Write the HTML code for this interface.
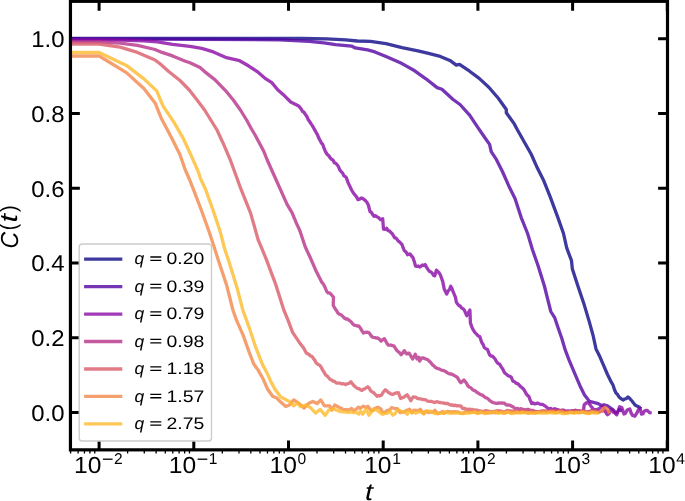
<!DOCTYPE html>
<html><head><meta charset="utf-8"><style>
html,body{margin:0;padding:0;background:#fff;}
body{width:685px;height:501px;overflow:hidden;}
svg{display:block;will-change:transform;font-family:"Liberation Sans",sans-serif;text-rendering:geometricPrecision;}
</style></head><body>
<svg width="685" height="501" viewBox="0 0 685 501">
<defs><clipPath id="ax"><rect x="70.5" y="1.3" width="597.0" height="448.6"/></clipPath></defs>

<path d="M99.10 449.85V440.45M99.10 1.30V10.70M193.80 449.85V440.45M193.80 1.30V10.70M288.50 449.85V440.45M288.50 1.30V10.70M383.20 449.85V440.45M383.20 1.30V10.70M477.90 449.85V440.45M477.90 1.30V10.70M572.60 449.85V440.45M572.60 1.30V10.70M667.30 449.85V440.45M667.30 1.30V10.70M70.45 412.40H79.85M667.50 412.40H658.10M70.45 337.65H79.85M667.50 337.65H658.10M70.45 262.90H79.85M667.50 262.90H658.10M70.45 188.15H79.85M667.50 188.15H658.10M70.45 113.40H79.85M667.50 113.40H658.10M70.45 38.65H79.85M667.50 38.65H658.10" stroke="#000" stroke-width="3.0" fill="none"/>
<g clip-path="url(#ax)" fill="none" stroke-width="3.3" stroke-linejoin="round" stroke-linecap="butt" stroke-opacity="0.8">
<polyline stroke="#0d0887" points="60.0,38.4 99.2,38.4 280.0,38.5 301.9,38.5 326.7,38.8 345.7,39.9 357.4,41.0 370.5,41.4 386.0,43.6 402.0,47.6 417.9,50.8 427.5,53.2 440.3,56.4 449.9,60.4 456.3,65.1 459.5,64.3 469.6,71.2 479.2,78.4 488.8,87.2 498.3,98.3 506.3,109.5 506.3,112.7 514.3,123.9 517.5,130.0 524.7,142.8 531.1,154.0 537.5,168.3 543.9,181.1 550.3,197.1 557.9,217.6 563.5,233.5 566.7,247.9 571.5,260.7 572.3,268.7 577.9,286.0 584.3,305.1 589.1,321.1 593.1,335.5 596.0,348.9 599.8,356.6 603.7,365.6 607.5,374.5 611.3,382.2 613.0,385.0 614.5,389.7 616.0,393.0 617.5,394.4 619.0,397.0 621.0,398.6 623.0,400.0 624.7,399.0 626.3,398.7 628.0,397.0 630.0,398.8 632.0,401.0 633.5,402.9 635.0,405.0 637.0,406.1 639.0,407.0 641.0,409.0"/>
<polyline stroke="#5302a3" points="60.0,38.9 99.2,38.9 200.0,39.3 280.0,39.9 309.2,41.4 323.8,42.8 335.5,44.6 351.5,46.1 355.2,47.9 367.6,49.9 374.9,51.9 386.0,56.5 402.0,63.6 414.7,70.8 425.9,78.8 437.1,87.6 441.9,89.2 453.1,99.5 460.0,104.5 469.6,115.1 477.6,127.1 485.6,138.8 489.6,144.4 491.2,151.6 496.0,158.8 502.4,171.5 508.8,185.9 515.1,198.7 521.2,217.6 527.6,233.5 532.4,249.5 538.0,265.5 544.4,286.0 547.6,298.8 550.8,311.5 554.8,317.9 558.0,327.5 561.9,338.7 565.3,350.2 569.2,360.4 573.0,369.4 576.8,378.3 580.7,387.3 584.5,395.0 589.4,401.3 593.5,402.4 598.2,403.6 601.1,405.3 604.0,404.8 607.5,405.9 611.0,408.3 613.4,410.0 614.7,411.7 616.0,413.0 617.5,412.0 619.0,409.5 620.5,410.2 622.0,411.0"/>
<polyline stroke="#8a09a5" points="60.0,39.9 99.2,39.9 120.0,40.2 143.4,40.8 157.4,41.9 172.6,44.3 190.0,46.4 201.7,48.4 213.4,51.9 226.5,57.7 239.6,60.7 248.4,65.8 257.2,71.6 265.9,78.9 271.8,82.6 277.9,90.0 284.3,95.6 290.7,102.0 298.7,106.0 300.0,107.6 301.3,109.3 302.5,111.4 303.8,112.0 305.1,114.0 306.7,116.3 308.3,119.7 309.9,122.0 311.1,123.9 312.3,125.7 313.5,127.7 314.7,129.9 316.0,132.2 317.4,134.6 318.7,137.9 320.0,140.3 321.4,143.0 322.7,144.3 324.2,148.7 325.8,152.3 327.3,154.5 328.8,155.8 330.3,158.0 331.6,159.3 333.0,160.1 334.3,162.7 335.6,163.2 337.0,164.6 338.3,166.4 339.9,170.2 341.5,172.0 342.7,173.1 343.9,175.8 345.1,176.4 346.3,177.6 347.9,182.1 349.5,185.6 351.6,190.0 353.2,192.7 354.8,194.8 356.4,196.6 358.0,199.6 359.6,199.2 361.2,198.0 362.5,198.3 363.9,199.4 365.2,200.4 366.8,202.1 368.4,205.2 370.0,211.6 371.3,212.3 372.7,214.5 374.0,216.4 375.3,215.7 376.7,216.7 378.0,217.2 380.4,219.6 382.7,218.8 383.5,229.1 385.1,229.4 386.7,228.3 388.0,230.6 389.4,230.8 390.7,232.3 392.0,233.4 393.4,235.7 394.7,237.9 395.9,238.0 397.1,239.3 398.3,241.1 399.5,241.9 401.9,244.3 403.1,247.7 404.3,250.7 405.9,251.8 407.5,254.7 409.9,253.9 411.5,255.9 413.1,257.9 414.4,261.9 415.6,266.2 416.9,266.3 418.3,266.0 419.6,267.0 421.0,266.2 422.4,265.0 423.8,265.6 425.2,264.6 426.8,267.7 428.4,270.2 429.7,271.5 431.1,272.1 432.4,273.4 433.6,275.5 434.8,275.8 436.4,270.2 437.7,271.5 439.1,272.8 440.4,275.0 442.7,281.4 444.3,289.3 446.7,294.1 448.0,291.2 449.4,289.7 450.7,286.2 451.9,288.3 453.1,291.7 455.5,297.3 456.3,302.1 457.6,304.0 459.0,305.6 460.3,306.1 461.6,308.1 463.0,308.7 464.3,310.1 466.7,315.7 468.3,312.8 469.9,310.1 470.4,322.9 471.9,327.3 473.4,330.2 475.0,332.6 476.6,334.1 478.2,336.0 479.8,336.6 481.7,342.4 483.0,344.3 484.3,347.5 485.9,348.7 487.5,349.4 489.4,354.5 490.9,356.0 492.4,356.1 493.9,357.7 495.1,359.0 496.4,361.5 498.0,363.5 499.6,364.1 501.2,366.8 502.8,369.2 504.7,373.0 506.3,374.1 507.9,375.6 509.5,376.2 511.1,376.9 513.0,381.3 514.6,381.8 516.2,383.3 517.5,383.7 518.7,384.4 520.0,386.1 521.5,387.3 522.9,388.3 524.4,390.4 525.9,393.2 527.3,395.2 528.8,396.3 530.2,400.1 531.7,403.6 533.2,402.8 534.6,403.8 536.1,403.6 537.5,403.1 539.0,403.8 540.4,404.3 542.6,404.4 544.8,405.8 547.0,407.5 549.2,409.1 551.0,408.4 552.9,410.0 554.7,408.7 556.5,409.4 558.3,409.8 560.2,411.0 562.0,410.2 564.0,410.2 566.0,411.7 568.0,410.8 569.8,411.3 571.5,410.7 573.2,410.8 575.0,410.4 576.7,411.0 578.3,410.8 580.0,411.5 582.6,412.2 583.6,410.0 584.2,404.8 586.5,402.7 588.8,403.0 591.2,406.5 593.5,409.4 596.4,409.7 599.4,408.6 601.1,407.1 603.4,406.2 606.4,413.5 607.5,414.8 609.1,413.5 610.8,409.7 612.0,409.5 613.3,412.2 614.5,412.6 616.7,414.8 618.2,410.8 619.6,406.8 621.8,407.5 624.0,414.0 625.5,413.3 626.9,410.4 628.3,409.5 629.8,409.0 631.2,413.3 632.7,415.5 634.9,416.2 637.1,412.6 638.5,409.5 640.0,408.2 641.5,414.0 643.0,413.8 644.4,411.1 645.8,410.5 647.3,410.4 649.5,412.6 651.7,413.0"/>
<polyline stroke="#b7318a" points="60.0,41.8 99.2,41.8 120.0,43.1 137.5,45.4 155.0,49.5 162.0,52.4 172.6,55.9 185.4,61.2 190.0,62.8 200.0,67.6 204.6,71.6 214.8,79.6 226.5,91.7 233.3,100.0 240.4,110.0 246.6,120.0 251.5,129.0 255.4,135.5 263.5,150.7 267.2,160.0 274.4,176.0 280.8,190.4 287.2,204.7 292.0,212.7 296.7,223.9 299.6,230.0 302.8,239.6 305.2,246.8 310.8,258.8 315.6,269.9 320.4,279.5 321.9,282.4 323.5,284.3 325.1,287.5 326.7,291.5 328.0,292.9 329.4,292.8 330.7,293.9 332.1,295.5 333.5,297.2 333.2,305.2 334.8,308.3 336.4,310.4 338.0,313.2 339.6,314.3 341.2,314.9 342.8,316.4 344.4,318.0 346.0,319.0 347.6,319.0 349.2,320.4 350.8,321.5 352.4,323.5 354.0,325.1 355.6,325.4 357.2,326.0 358.8,325.9 360.4,328.1 361.9,330.8 363.5,333.1 365.1,332.4 366.7,332.2 368.3,332.3 369.6,333.4 371.0,335.6 372.3,337.1 373.7,337.4 375.1,337.6 376.5,338.2 377.9,337.9 379.5,339.3 381.1,341.1 382.7,339.7 384.3,338.7 385.6,340.8 387.0,343.5 388.3,345.1 389.7,345.1 391.1,345.2 392.5,345.6 393.9,345.9 395.5,348.5 397.1,350.7 398.4,351.8 399.8,353.0 401.1,354.7 402.7,353.0 404.3,350.7 406.7,353.9 409.1,353.1 410.9,356.1 412.6,359.0 414.0,356.7 415.3,354.2 417.0,359.0 418.8,357.3 419.6,361.2 421.4,358.1 422.9,357.8 424.3,358.4 425.8,359.0 427.6,359.6 429.3,361.2 430.7,362.5 432.2,364.6 433.6,365.6 435.1,367.2 436.5,368.0 438.0,368.6 439.3,368.9 440.6,369.6 442.0,370.4 443.3,370.4 444.8,371.1 446.2,372.0 447.7,373.0 449.4,373.9 451.2,374.0 452.9,374.8 454.4,375.6 455.8,376.4 457.3,377.4 459.1,380.4 460.8,382.7 462.4,381.4 463.9,380.0 465.3,381.6 466.6,383.5 468.0,386.1 469.4,387.3 470.9,387.8 472.4,389.5 473.8,390.4 475.3,390.9 476.7,392.2 478.2,392.9 479.6,394.1 481.1,394.8 482.6,395.2 484.0,396.5 485.5,397.6 486.9,398.0 488.4,399.2 489.8,400.7 491.3,401.6 492.8,402.5 494.2,402.8 495.7,403.3 497.1,403.3 498.6,402.9 500.0,403.2 501.5,402.8 503.0,403.1 504.4,403.2 505.9,404.6 507.3,405.1 508.8,405.0 510.3,405.4 511.7,406.3 513.2,406.9 514.6,408.2 516.1,408.7 517.6,408.4 519.0,409.4 520.5,408.6 521.9,409.1 523.4,409.4 524.7,409.9 526.0,409.7 527.4,409.4 528.7,409.4 530.0,410.1 532.8,410.5 535.8,411.8 540.2,411.4 543.6,410.8 547.5,411.2 551.1,411.3 554.7,410.9 556.8,410.3 561.5,410.3 564.8,411.2 567.1,411.6 570.5,411.7 575.7,410.4 579.0,411.5 581.2,411.3 584.7,411.8 589.4,412.0 591.6,410.6 596.3,411.2 598.8,411.8 603.7,410.6 605.8,411.3 609.8,411.3"/>
<polyline stroke="#da5b69" points="60.0,44.0 99.2,44.0 120.0,47.2 137.5,52.4 155.0,60.0 159.7,63.5 169.0,71.7 180.0,80.5 189.3,90.0 197.1,100.0 204.6,110.0 210.8,120.0 217.0,130.0 221.6,140.0 223.1,143.1 230.6,160.7 237.0,178.3 241.0,189.2 250.6,213.1 258.2,240.0 261.8,248.3 266.2,259.2 275.8,284.7 283.8,310.0 287.8,319.6 292.6,332.4 299.0,341.9 303.8,348.3 306.3,353.1 307.7,353.8 309.1,354.5 310.5,356.0 312.0,356.3 313.3,358.4 314.7,360.1 316.0,362.7 317.8,364.2 319.5,365.1 321.1,367.0 322.6,370.0 324.1,372.2 325.6,375.1 327.2,375.9 328.7,377.8 330.2,379.3 331.7,380.2 333.1,381.1 334.6,381.3 336.1,382.8 337.6,383.1 340.0,383.1 341.4,383.9 342.9,383.6 344.3,384.0 345.8,384.6 347.5,383.8 349.2,383.2 350.9,381.7 352.6,384.1 354.4,386.0 356.1,387.5 357.6,388.5 359.0,388.6 360.4,389.8 361.9,390.4 363.3,389.4 364.8,388.8 366.2,387.7 367.7,386.8 369.2,388.1 370.6,390.7 372.1,391.9 373.8,392.8 375.5,394.6 377.2,396.3 378.7,395.6 380.1,395.9 381.6,394.8 383.5,391.8 385.3,389.7 386.8,390.9 388.2,392.4 389.7,393.1 391.1,394.1 392.9,394.3 394.7,393.4 396.5,392.9 398.4,392.6 400.6,398.5 402.4,397.7 404.2,397.0 405.7,395.7 407.2,394.8 409.0,397.6 410.8,400.7 413.0,397.0 414.5,397.2 415.9,397.2 417.4,398.7 418.9,398.7 420.3,399.0 421.8,399.2 423.2,399.6 424.7,399.6 426.1,400.0 427.6,401.2 429.1,401.4 430.5,401.4 431.8,401.5 433.1,402.0 434.5,402.5 435.8,402.1 437.3,401.7 438.8,402.3 440.2,402.5 441.7,402.8 443.2,402.9 444.6,403.4 446.1,403.5 447.5,403.5 449.0,404.3 450.5,405.0 451.9,404.8 453.4,405.6 454.8,405.1 456.3,405.8 457.8,405.6 459.2,405.8 460.7,405.8 462.8,408.7 464.5,408.4 466.3,409.1 468.0,409.4 469.4,409.1 470.9,409.5 472.4,409.5 473.8,410.2 475.2,410.0 476.7,410.1 479.0,410.7 483.3,411.6 486.2,410.7 489.9,411.7 493.3,411.7 497.8,410.7 501.1,411.2 504.3,412.1 507.1,410.5 512.4,411.1 514.4,411.0 518.2,412.0 521.4,410.8 525.7,411.4 530.0,411.8 532.2,410.8 536.7,412.1 538.5,411.7 543.8,411.5 545.9,411.8 550.5,410.8 553.8,410.9 556.0,411.0 560.2,411.1 564.3,411.8 568.5,412.1 572.0,411.8 574.1,410.8 578.3,411.4 581.9,410.6 584.4,412.0 588.7,411.6 591.2,411.1 596.4,411.5"/>
<polyline stroke="#f3874a" points="60.0,56.0 99.2,56.0 126.4,72.6 143.9,88.5 155.1,102.9 161.5,118.8 166.0,127.2 172.2,139.1 179.8,154.3 185.3,170.0 189.3,179.0 193.3,189.2 201.3,210.0 209.3,232.3 214.8,249.0 218.5,260.8 226.5,284.7 232.9,310.0 236.9,321.2 243.3,335.6 248.9,351.5 253.9,364.3 258.0,369.9 263.0,378.7 267.5,389.0 272.6,396.3 276.3,397.7 280.7,402.1 285.8,406.5 289.4,405.0 293.8,399.9 298.2,402.8 304.0,408.0 308.4,403.6 312.8,401.4 317.2,403.6 320.8,399.9 324.5,405.8 329.6,405.8 331.8,410.1 334.7,405.0 339.0,407.2 343.4,409.4 348.5,410.0 351.6,408.5 353.4,410.8 356.6,408.9 358.6,407.1 360.3,408.2 363.5,406.2 366.2,407.4 367.8,406.3 371.3,410.9 373.5,410.2 374.7,408.5 377.8,407.2 380.9,408.9 382.1,411.8 384.5,412.5 387.3,410.3 389.6,410.0 391.7,407.5 395.1,408.7 397.4,408.7 400.1,412.6 402.2,412.0 404.3,411.8 406.1,410.5 409.5,409.2 412.0,412.9 413.7,410.2 416.1,410.4 419.3,410.5 420.3,409.2 423.7,413.7 425.8,411.3 428.3,412.6 430.2,412.0 433.1,412.2 434.9,410.2 437.6,413.7 442.8,411.4 444.1,413.3 447.4,411.4 451.3,411.9 454.7,411.6 457.8,411.8 460.2,413.2 463.3,413.1 466.4,411.2 469.7,412.4 471.7,411.5 475.6,412.4 478.8,412.8 481.8,412.3 484.4,412.4 486.6,413.2 489.7,412.8 493.8,412.5 495.4,412.9 499.3,411.5 501.2,412.3 504.2,413.1 508.0,412.2 510.8,412.6 514.7,411.8 516.8,412.4 519.6,412.4 523.1,412.1 526.3,412.3 528.3,413.3 531.7,412.0 534.8,413.1 538.8,412.2 540.8,411.3 544.7,411.5 547.1,411.9 549.7,411.9 552.4,411.2 556.1,412.9 559.3,411.5 562.3,411.2 564.8,412.9 568.8,412.1 571.6,412.2 574.0,412.4 577.9,412.7 580.0,412.7 583.3,411.9 586.5,412.9 589.2,413.2 591.1,412.2 595.2,411.8 597.4,412.6 601.0,411.5 603.3,408.6 605.0,407.3 607.7,409.5 609.8,413.5"/>
<polyline stroke="#feba2c" points="60.0,52.4 99.2,52.4 126.4,65.4 143.9,78.9 156.7,90.9 163.1,106.1 169.5,115.6 174.0,122.4 183.2,138.3 191.3,155.9 197.6,170.0 200.7,179.0 205.5,189.2 213.5,211.5 219.9,230.7 224.7,249.0 229.2,262.4 237.1,287.9 242.8,310.0 249.2,327.6 255.5,346.7 262.4,364.3 267.5,373.9 270.2,380.2 274.8,389.0 280.7,397.0 285.0,399.2 289.4,401.4 293.8,405.8 297.4,402.8 300.4,406.5 305.5,405.0 309.9,407.2 315.7,413.1 320.1,409.4 325.2,415.3 328.8,410.1 333.2,408.7 340.5,411.6 348.9,412.4 352.0,411.8 353.8,412.7 355.7,412.1 358.8,414.1 360.4,410.8 362.8,414.2 366.1,409.1 368.9,415.2 370.8,412.9 372.5,409.1 375.4,409.5 377.4,410.7 379.5,412.1 382.5,414.4 385.0,413.2 387.4,413.3 389.7,411.1 392.9,415.2 395.1,413.6 396.7,411.0 399.1,410.1 402.2,411.9 404.7,411.9 407.3,414.3 408.3,411.1 412.0,412.4 414.5,412.1 415.6,413.2 419.0,411.5 420.4,411.9 424.1,413.8 425.2,411.6 427.6,410.8 431.0,411.4 433.1,412.5 435.0,413.7 437.3,413.4 442.0,413.1 445.3,412.1 447.1,412.6 450.6,413.4 454.3,413.0 457.1,413.1 459.4,412.7 462.4,413.6 465.2,413.4 468.2,413.2 471.7,412.6 475.6,411.9 477.2,413.6 481.0,412.0 484.9,413.6 486.3,412.7 489.3,412.5 493.2,412.2 496.4,412.0 498.4,413.4 501.8,412.7 505.2,412.8 507.8,412.0 511.4,413.6 514.9,413.1 516.7,412.6 520.3,413.1 522.3,412.4 525.8,412.8 529.6,412.8 531.2,413.3 534.9,412.8 537.5,412.7 540.8,413.2 543.3,412.9 546.4,413.1 549.2,412.4 552.7,413.0 555.2,412.7 558.5,412.5 562.0,413.5 565.0,413.5 567.4,413.4 570.8,412.3 574.4,413.4 576.1,412.5 580.5,412.6 582.5,412.1 585.2,413.0 589.9,413.5 592.0,412.1 594.7,413.2 598.6,413.0"/>
</g>
<rect x="70.45" y="1.30" width="597.05" height="448.55" fill="none" stroke="#000" stroke-width="3.2"/>
<path d="M70.59 449.85V453.45M78.09 449.85V453.45M84.43 449.85V453.45M89.92 449.85V453.45M94.77 449.85V453.45M127.61 449.85V453.45M144.28 449.85V453.45M156.12 449.85V453.45M165.29 449.85V453.45M172.79 449.85V453.45M179.13 449.85V453.45M184.62 449.85V453.45M189.47 449.85V453.45M222.31 449.85V453.45M238.98 449.85V453.45M250.82 449.85V453.45M259.99 449.85V453.45M267.49 449.85V453.45M273.83 449.85V453.45M279.32 449.85V453.45M284.17 449.85V453.45M317.01 449.85V453.45M333.68 449.85V453.45M345.52 449.85V453.45M354.69 449.85V453.45M362.19 449.85V453.45M368.53 449.85V453.45M374.02 449.85V453.45M378.87 449.85V453.45M411.71 449.85V453.45M428.38 449.85V453.45M440.22 449.85V453.45M449.39 449.85V453.45M456.89 449.85V453.45M463.23 449.85V453.45M468.72 449.85V453.45M473.57 449.85V453.45M506.41 449.85V453.45M523.08 449.85V453.45M534.92 449.85V453.45M544.09 449.85V453.45M551.59 449.85V453.45M557.93 449.85V453.45M563.42 449.85V453.45M568.27 449.85V453.45M601.11 449.85V453.45M617.78 449.85V453.45M629.62 449.85V453.45M638.79 449.85V453.45M646.29 449.85V453.45M652.63 449.85V453.45M658.12 449.85V453.45M662.97 449.85V453.45" stroke="#000" stroke-width="1.30" fill="none"/>
<g font-size="22.80" text-anchor="end" fill="#000">
<text transform="translate(64.50,420.80) scale(1.050,1)">0.0</text>
<text transform="translate(64.50,346.05) scale(1.050,1)">0.2</text>
<text transform="translate(64.50,271.30) scale(1.050,1)">0.4</text>
<text transform="translate(64.50,196.55) scale(1.050,1)">0.6</text>
<text transform="translate(64.50,121.80) scale(1.050,1)">0.8</text>
<text transform="translate(64.50,47.05) scale(1.050,1)">1.0</text>
</g>
<g fill="#000">
<text transform="translate(74.10,472.70) scale(1.060,1)" font-size="23.20">10</text>
<rect x="102.90" y="458.55" width="9.70" height="1.30"/>
<text transform="translate(114.10,463.60) scale(1.000,1)" font-size="15.60">2</text>
<text transform="translate(168.80,472.70) scale(1.060,1)" font-size="23.20">10</text>
<rect x="197.60" y="458.55" width="9.70" height="1.30"/>
<text transform="translate(208.80,463.60) scale(1.000,1)" font-size="15.60">1</text>
<text transform="translate(269.50,472.70) scale(1.060,1)" font-size="23.20">10</text>
<text transform="translate(297.50,463.60) scale(1.000,1)" font-size="15.60">0</text>
<text transform="translate(364.20,472.70) scale(1.060,1)" font-size="23.20">10</text>
<text transform="translate(392.20,463.60) scale(1.000,1)" font-size="15.60">1</text>
<text transform="translate(458.90,472.70) scale(1.060,1)" font-size="23.20">10</text>
<text transform="translate(486.90,463.60) scale(1.000,1)" font-size="15.60">2</text>
<text transform="translate(553.60,472.70) scale(1.060,1)" font-size="23.20">10</text>
<text transform="translate(581.60,463.60) scale(1.000,1)" font-size="15.60">3</text>
<text transform="translate(648.30,472.70) scale(1.060,1)" font-size="23.20">10</text>
<text transform="translate(676.30,463.60) scale(1.000,1)" font-size="15.60">4</text>
</g>
<text transform="translate(365.00,500.20) scale(1.200,1)" font-size="24.00" font-style="italic">t</text>
<g transform="translate(18.00,250.00) rotate(-90)">
<text transform="translate(1.40,-0.50) scale(0.931,1)" font-size="24.60" font-style="italic">C</text>
<text transform="translate(19.80,-2.20) scale(0.850,1)" font-size="22.20">(</text>
<text transform="translate(27.40,-0.90) scale(1.250,1)" font-size="24.60" font-style="italic">t</text>
<text transform="translate(38.07,-2.20) scale(0.900,1)" font-size="22.20">)</text>
</g>
<rect x="79.20" y="244.00" width="132.30" height="197.00" rx="3" ry="3" fill="#fff" fill-opacity="0.8" stroke="#cccccc" stroke-width="1.40"/>
<line x1="84.10" y1="259.10" x2="122.30" y2="259.10" stroke="#0d0887" stroke-opacity="0.8" stroke-width="3.3"/>
<text transform="translate(134.50,264.30) scale(1.050,1)" font-size="16.60" font-style="italic">q</text>
<path d="M150.30 256.35h11.00v1.30h-11.00zM150.30 259.75h11.00v1.30h-11.00z"/>
<text transform="translate(166.50,264.30) scale(1.170,1)" font-size="16.60">0.20</text>
<line x1="84.10" y1="286.57" x2="122.30" y2="286.57" stroke="#5302a3" stroke-opacity="0.8" stroke-width="3.3"/>
<text transform="translate(134.50,291.77) scale(1.050,1)" font-size="16.60" font-style="italic">q</text>
<path d="M150.30 283.82h11.00v1.30h-11.00zM150.30 287.22h11.00v1.30h-11.00z"/>
<text transform="translate(166.50,291.77) scale(1.170,1)" font-size="16.60">0.39</text>
<line x1="84.10" y1="314.04" x2="122.30" y2="314.04" stroke="#8a09a5" stroke-opacity="0.8" stroke-width="3.3"/>
<text transform="translate(134.50,319.24) scale(1.050,1)" font-size="16.60" font-style="italic">q</text>
<path d="M150.30 311.29h11.00v1.30h-11.00zM150.30 314.69h11.00v1.30h-11.00z"/>
<text transform="translate(166.50,319.24) scale(1.170,1)" font-size="16.60">0.79</text>
<line x1="84.10" y1="341.51" x2="122.30" y2="341.51" stroke="#b7318a" stroke-opacity="0.8" stroke-width="3.3"/>
<text transform="translate(134.50,346.71) scale(1.050,1)" font-size="16.60" font-style="italic">q</text>
<path d="M150.30 338.76h11.00v1.30h-11.00zM150.30 342.16h11.00v1.30h-11.00z"/>
<text transform="translate(166.50,346.71) scale(1.170,1)" font-size="16.60">0.98</text>
<line x1="84.10" y1="368.98" x2="122.30" y2="368.98" stroke="#da5b69" stroke-opacity="0.8" stroke-width="3.3"/>
<text transform="translate(134.50,374.18) scale(1.050,1)" font-size="16.60" font-style="italic">q</text>
<path d="M150.30 366.23h11.00v1.30h-11.00zM150.30 369.63h11.00v1.30h-11.00z"/>
<text transform="translate(166.50,374.18) scale(1.170,1)" font-size="16.60">1.18</text>
<line x1="84.10" y1="396.45" x2="122.30" y2="396.45" stroke="#f3874a" stroke-opacity="0.8" stroke-width="3.3"/>
<text transform="translate(134.50,401.65) scale(1.050,1)" font-size="16.60" font-style="italic">q</text>
<path d="M150.30 393.70h11.00v1.30h-11.00zM150.30 397.10h11.00v1.30h-11.00z"/>
<text transform="translate(166.50,401.65) scale(1.170,1)" font-size="16.60">1.57</text>
<line x1="84.10" y1="423.92" x2="122.30" y2="423.92" stroke="#feba2c" stroke-opacity="0.8" stroke-width="3.3"/>
<text transform="translate(134.50,429.12) scale(1.050,1)" font-size="16.60" font-style="italic">q</text>
<path d="M150.30 421.17h11.00v1.30h-11.00zM150.30 424.57h11.00v1.30h-11.00z"/>
<text transform="translate(166.50,429.12) scale(1.170,1)" font-size="16.60">2.75</text>
</svg></body></html>
